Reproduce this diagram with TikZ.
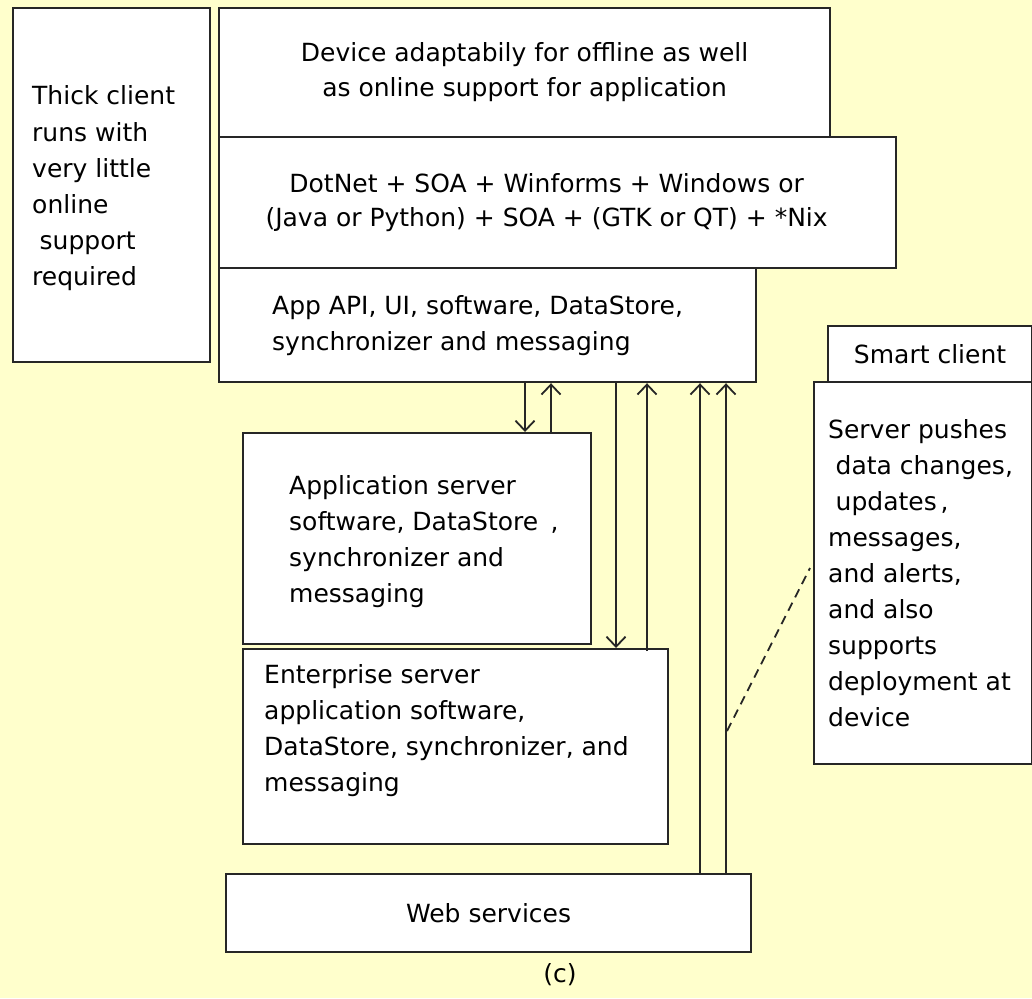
\documentclass[tikz,border=0pt]{standalone}
\usepackage{fontspec}
\setmainfont{DejaVu Sans}
\usetikzlibrary{arrows.meta}
\definecolor{bgyellow}{RGB}{255,255,204}

\begin{document}
\begin{tikzpicture}[x=1pt,y=-1pt,
                        box/.style={draw=black!85,line width=2.2,fill=white,anchor=north west,
                        inner sep=0,align=center,font=\fontsize{25}{35}\selectfont},
                        txt/.style={anchor=west,inner sep=0,align=left,font=\fontsize{25}{36}\selectfont},
                        flow/.style={line width=1.8,black!85,-{Straight Barb[length=10pt,width=19pt,line width=1.8pt]}},
                        wire/.style={line width=1.8,black!85}
                        ]
                        \fill[bgyellow] (0,0) rectangle (1032,998);
                        \useasboundingbox (0,0) rectangle (1032,998);
                        % client side stack
                        \node[box,minimum width=197,minimum height=354] (thick) at (12,7) {};
                        \node[box,minimum width=611,minimum height=129] (device) at (218,7)
                            {Device adaptabily for offline as well\\as online support for application};
                        \node[box,minimum width=677,minimum height=131] (dotnet) at (218,136) {};
                        \node[box,minimum width=537,minimum height=114] (api) at (218,267) {};
                        % smart client note
                        \node[box,minimum width=204,minimum height=56] (smart) at (827,325) {Smart client};
                        \node[box,minimum width=218,minimum height=382] (push) at (813,381) {};
                        % server side
                        \node[box,minimum width=348,minimum height=211] (appsrv) at (242,432) {};
                        \node[box,minimum width=425,minimum height=195] (ent) at (242,648) {};
                        \node[box,minimum width=525,minimum height=78] (web) at (225,873) {Web services};

                        % texts
                        \node[txt,yshift=-3] (thicktxt) at ([xshift=20]thick.west)
                            {Thick client\\runs with\\very little\\online\\\hspace*{0.3em}support\\required};
                        \node[txt,anchor=center,align=center,font=\fontsize{25}{34}\selectfont] (dotnettxt) at ([xshift=-11]dotnet.center)
                            {DotNet + SOA + Winforms + Windows or\\(Java or Python) + SOA + (GTK or QT) + *Nix};
                        \node[txt] (apitxt) at ([xshift=54]api.west)
                            {App API, UI, software, DataStore,\\synchronizer and messaging};
                        \node[txt] (pushtxt) at ([xshift=15]push.west)
                            {Server pushes\\\hspace*{0.3em}data changes,\\\hspace*{0.3em}updates\hspace{0.15em},\\messages,\\and alerts,\\and also\\supports\\deployment at\\device};
                        \node[txt,yshift=-3] (appsrvtxt) at ([xshift=47]appsrv.west)
                            {Application server\\software, DataStore\hspace{0.5em},\\synchronizer and\\messaging};
                        \node[txt,yshift=16] (enttxt) at ([xshift=22]ent.west)
                            {Enterprise server\\application software,\\DataStore, synchronizer, and\\messaging};
                        \node[font=\fontsize{25}{30}\selectfont] (caption) at (560,975) {(c)};

                        % links between the layers
                        \draw[flow] ([xshift=307]api.south west) -- ([xshift=283]appsrv.north west);
                        \draw[flow] ([xshift=309]appsrv.north west) -- ([xshift=333]api.south west);
                        \draw[flow] ([xshift=398]api.south west) -- ([xshift=374]ent.north west);
                        \draw[flow] ([xshift=405,yshift=-3]ent.north west) -- ([xshift=429]api.south west);
                        \draw[flow] ([xshift=475]web.north west) -- ([xshift=482]api.south west);
                        \draw[flow] ([xshift=501]web.north west) -- ([xshift=508]api.south west);
                        \coordinate (dashfoot) at (727,731);
                        \draw[wire,dashed,dash pattern=on 9pt off 6pt] (dashfoot) -- ([xshift=-3,yshift=-187]push.north west);
                \end{tikzpicture}
\end{document}
